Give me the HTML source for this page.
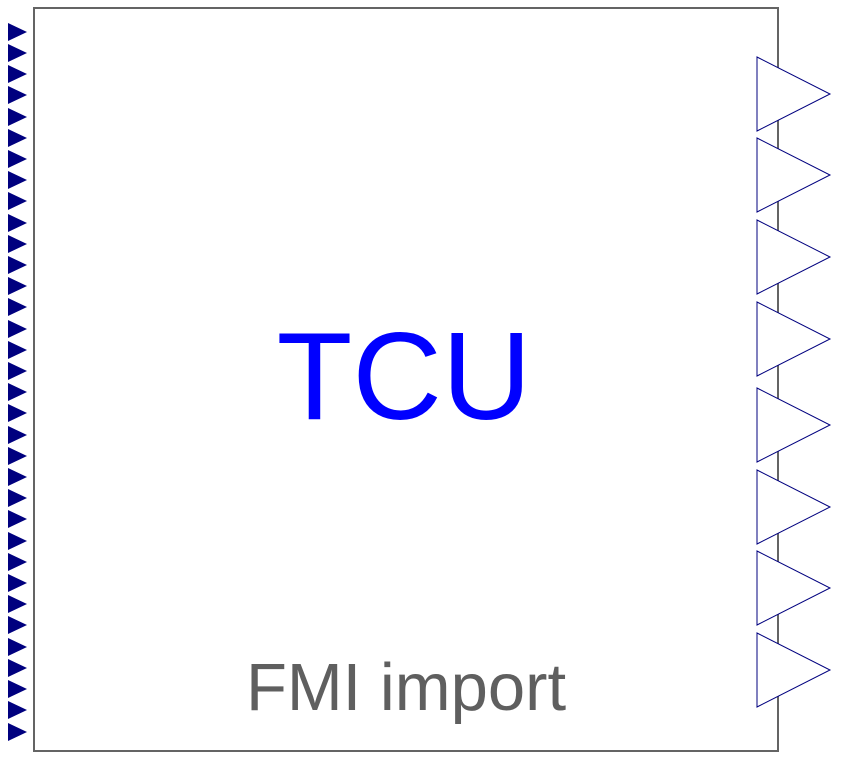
<!DOCTYPE html>
<html><head><style>body{margin:0;background:#fff}svg{display:block}</style></head><body>
<svg width="864" height="771" xmlns="http://www.w3.org/2000/svg">
<rect x="34" y="8" width="744" height="743" fill="#fff" stroke="#646464" stroke-width="2"/>
<g fill="#00007f">
<polygon points="8,23 27,32 8,41"/><polygon points="8,44 27,53 8,62"/><polygon points="8,65 27,74 8,83"/><polygon points="8,86 27,95 8,104"/><polygon points="8,108 27,117 8,126"/><polygon points="8,129 27,138 8,147"/><polygon points="8,150 27,159 8,168"/><polygon points="8,171 27,180 8,189"/><polygon points="8,192 27,201 8,210"/><polygon points="8,214 27,223 8,232"/><polygon points="8,235 27,244 8,253"/><polygon points="8,256 27,265 8,274"/><polygon points="8,277 27,286 8,295"/><polygon points="8,298 27,307 8,316"/><polygon points="8,320 27,329 8,338"/><polygon points="8,341 27,350 8,359"/><polygon points="8,362 27,371 8,380"/><polygon points="8,383 27,392 8,401"/><polygon points="8,404 27,413 8,422"/><polygon points="8,426 27,435 8,444"/><polygon points="8,447 27,456 8,465"/><polygon points="8,468 27,477 8,486"/><polygon points="8,489 27,498 8,507"/><polygon points="8,510 27,519 8,528"/><polygon points="8,532 27,541 8,550"/><polygon points="8,553 27,562 8,571"/><polygon points="8,574 27,583 8,592"/><polygon points="8,595 27,604 8,613"/><polygon points="8,616 27,625 8,634"/><polygon points="8,638 27,647 8,656"/><polygon points="8,659 27,668 8,677"/><polygon points="8,680 27,689 8,698"/><polygon points="8,701 27,710 8,719"/><polygon points="8,723 27,732 8,741"/>
</g>
<g fill="#fff" stroke="#00007f" stroke-width="1">
<polygon points="757,57 830,94 757,131"/><polygon points="757,138 830,175 757,212"/><polygon points="757,220 830,257 757,294"/><polygon points="757,302 830,339 757,376"/><polygon points="757,388 830,425 757,462"/><polygon points="757,470 830,507 757,544"/><polygon points="757,551 830,588 757,625"/><polygon points="757,633 830,670 757,707"/>
</g>
<text x="404" y="419" font-family="Liberation Sans, sans-serif" font-size="124" fill="#0000ff" text-anchor="middle">TCU</text>
<text x="406" y="710" font-family="Liberation Sans, sans-serif" font-size="67" fill="#5f5f5f" text-anchor="middle">FMI import</text>
</svg>
</body></html>
